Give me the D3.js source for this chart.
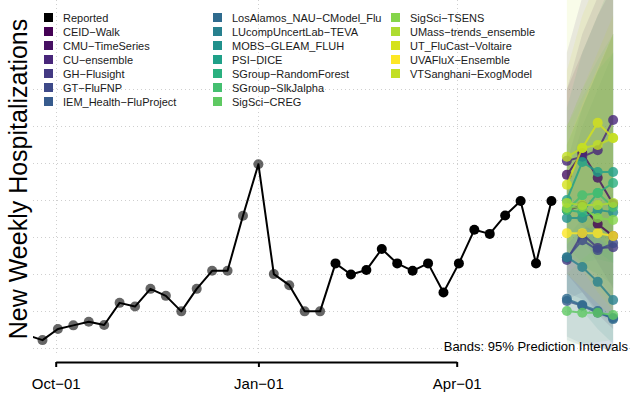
<!DOCTYPE html>
<html>
<head>
<meta charset="utf-8">
<script src="https://cdn.jsdelivr.net/npm/d3@7"></script>
<style>
  html, body { margin: 0; padding: 0; background: #fff; }
  svg { display: block; font-family: "Liberation Sans", Arial, Helvetica, sans-serif; }
</style>
</head>
<body>
<svg id="chart" width="632" height="397"></svg>
<script>
// Weekly reported hospitalizations (week ending Saturday)
const reportedDates = [
  "2021-09-18","2021-09-25","2021-10-02","2021-10-09","2021-10-16","2021-10-23","2021-10-30",
  "2021-11-06","2021-11-13","2021-11-20","2021-11-27","2021-12-04","2021-12-11","2021-12-18",
  "2021-12-25","2022-01-01","2022-01-08","2022-01-15","2022-01-22","2022-01-29","2022-02-05",
  "2022-02-12","2022-02-19","2022-02-26","2022-03-05","2022-03-12","2022-03-19","2022-03-26",
  "2022-04-02","2022-04-09","2022-04-16","2022-04-23","2022-04-30","2022-05-07","2022-05-14"
];
const reportedValues = [
  134, 120, 150, 160, 170, 161, 221,
  211, 259, 240, 198, 259, 308, 308,
  457, 597, 299, 269, 198, 198, 328,
  298, 310, 367, 328, 308, 328, 249,
  328, 419, 408, 458, 497, 328, 497
];
// earlier weeks are drawn faded
const fadedThrough = "2022-01-29";

// Forecast target dates (1-4 weeks ahead)
const horizonDates = ["2022-05-21", "2022-05-28", "2022-06-04", "2022-06-11"];

const models = [
  "CEID-Walk", "CMU-TimeSeries", "CU-ensemble", "GH-Flusight", "GT-FluFNP",
  "IEM_Health-FluProject", "LosAlamos_NAU-CModel_Flu", "LUcompUncertLab-TEVA",
  "MOBS-GLEAM_FLUH", "PSI-DICE", "SGroup-RandomForest", "SGroup-SlkJalpha",
  "SigSci-CREG", "SigSci-TSENS", "UMass-trends_ensemble", "UT_FluCast-Voltaire",
  "UVAFluX-Ensemble", "VTSanghani-ExogModel"
];
const modelColors = [
  "#440154", "#471063", "#48267a", "#443a83", "#3e4a89",
  "#375b8d", "#2f6b8e", "#27808e",
  "#21918c", "#1fa088", "#2ab07f", "#44bf70",
  "#5ec962", "#85d54a", "#addc30", "#d5e21a",
  "#fde725", "#c2df23"
];

// Point forecasts, one row per model, horizons 1-4
const forecastMedian = [
  [473, 484, 435, 402],
  [568, 627, 560, 489],
  [606, 617, 635, 717],
  [337, 408, 370, 372],
  [343, 391, 364, 383],
  [226, 213, 194, 180],
  [232, 215, 199, 177],
  [345, 318, 278, 229],
  [451, 451, 473, 467],
  [500, 603, 576, 576],
  [473, 467, 519, 546],
  [473, 513, 519, 481],
  [199, 194, 194, 188],
  [478, 481, 451, 446],
  [492, 486, 486, 492],
  [541, 641, 709, 668],
  [410, 410, 410, 402],
  [617, 641, 649, 668]
];
// 95% prediction interval bounds
const forecastLower = [
  [300, 250, 190, 150],
  [420, 400, 330, 260],
  [470, 430, 400, 390],
  [230, 250, 200, 180],
  [250, 230, 190, 170],
  [120, 105, 100, 95],
  [130, 110, 100, 90],
  [250, 200, 150, 110],
  [350, 320, 300, 270],
  [380, 420, 360, 330],
  [370, 330, 340, 330],
  [340, 330, 290, 240],
  [105, 110, 115, 120],
  [360, 320, 260, 220],
  [360, 310, 250, 200],
  [380, 420, 430, 350],
  [300, 260, 220, 180],
  [460, 440, 400, 360]
];
const forecastUpper = [
  [800, 900, 1000, 1080],
  [800, 950, 1050, 1150],
  [900, 1050, 1150, 1300],
  [600, 750, 850, 950],
  [560, 700, 800, 900],
  [380, 420, 450, 480],
  [400, 450, 480, 520],
  [560, 620, 650, 700],
  [650, 750, 850, 950],
  [750, 900, 1000, 1100],
  [650, 750, 850, 900],
  [700, 800, 880, 950],
  [300, 340, 370, 400],
  [700, 780, 850, 950],
  [700, 800, 900, 1000],
  [850, 1000, 1100, 1200],
  [650, 760, 860, 950],
  [1060, 1150, 1250, 1350]
];

const xTickDates = ["2021-10-01", "2022-01-01", "2022-04-01"];
const xTickLabels = ["Oct\u221201", "Jan\u221201", "Apr\u221201"];
const yGridValues = [100, 200, 300, 400, 500, 600, 700, 800];

const yTitle = "New Weekly Hospitalizations";
const bandNote = "Bands: 95% Prediction Intervals";

// ---------------------------------------------------------------
const svg = d3.select("#chart");
const parse = d3.utcParse("%Y-%m-%d");

const x = d3.scaleUtc()
  .domain([parse(xTickDates[0]), parse(xTickDates[2])])
  .range([55.7, 456.7]);
const y = d3.scaleLinear()
  .domain([100, 800])
  .range([347.5, 89.3]);

const plot = { left: 33, right: 632, top: -20, bottom: 356 };

svg.append("defs").append("clipPath").attr("id", "plotClip")
  .append("rect")
  .attr("x", plot.left).attr("y", plot.top)
  .attr("width", plot.right - plot.left).attr("height", plot.bottom - plot.top);

// grid
const grid = svg.append("g").attr("stroke", "#cfcfcf").attr("stroke-width", 1)
  .attr("stroke-dasharray", "1,3");
grid.selectAll("line.h").data(yGridValues).join("line").attr("class", "h")
  .attr("x1", plot.left).attr("x2", plot.right)
  .attr("y1", d => Math.round(y(d)) + 0.5).attr("y2", d => Math.round(y(d)) + 0.5);
grid.selectAll("line.v").data(xTickDates).join("line").attr("class", "v")
  .attr("x1", d => Math.round(x(parse(d))) + 0.5).attr("x2", d => Math.round(x(parse(d))) + 0.5)
  .attr("y1", 0).attr("y2", plot.bottom);

const body = svg.append("g").attr("clip-path", "url(#plotClip)");

// prediction bands
const hDates = horizonDates.map(parse);
const band = d3.area()
  .x((d, i) => x(hDates[i]))
  .y0(d => y(d[0]))
  .y1(d => y(d[1]));
models.forEach((m, k) => {
  const rows = forecastLower[k].map((lo, i) => [lo, forecastUpper[k][i]]);
  body.append("path")
    .attr("d", band(rows))
    .attr("fill", modelColors[k])
    .attr("fill-opacity", 0.1)
    .attr("stroke", "none");
});

// reported series
const reported = reportedDates.map((d, i) => ({ date: parse(d), value: reportedValues[i] }));
const fadeLimit = parse(fadedThrough);
const line = d3.line().x(d => x(d.date)).y(d => y(d.value));
body.append("path")
  .attr("d", line(reported))
  .attr("fill", "none").attr("stroke", "#000").attr("stroke-width", 2)
  .attr("stroke-linejoin", "round");
body.selectAll("circle.rep").data(reported).join("circle").attr("class", "rep")
  .attr("cx", d => x(d.date)).attr("cy", d => y(d.value)).attr("r", 5)
  .attr("fill", "#000")
  .attr("fill-opacity", d => d.date <= fadeLimit ? 0.6 : 1);

// forecast lines and points
const fline = d3.line().x((d, i) => x(hDates[i])).y(d => y(d));
models.forEach((m, k) => {
  const g = body.append("g").attr("opacity", 0.8);
  g.append("path")
    .attr("d", fline(forecastMedian[k]))
    .attr("fill", "none").attr("stroke", modelColors[k]).attr("stroke-width", 2);
  g.selectAll("circle").data(forecastMedian[k]).join("circle")
    .attr("cx", (d, i) => x(hDates[i])).attr("cy", d => y(d)).attr("r", 5)
    .attr("fill", modelColors[k]);
});

// x axis
const xAxis = d3.axisBottom(x)
  .tickValues(xTickDates.map(parse))
  .tickFormat((d, i) => xTickLabels[i])
  .tickSizeInner(5).tickSizeOuter(0).tickPadding(11);
const axisG = svg.append("g").attr("transform", "translate(0,362)").call(xAxis);
axisG.select(".domain").attr("stroke", "#000").attr("stroke-width", 2);
axisG.selectAll(".tick line").attr("stroke", "#000").attr("stroke-width", 2);
axisG.selectAll(".tick text").attr("font-size", 15).attr("fill", "#000")
  .attr("font-family", "Liberation Sans, Arial, sans-serif");

// y title
svg.append("text")
  .attr("transform", "translate(27,179) rotate(-90)")
  .attr("text-anchor", "middle")
  .attr("font-size", 25)
  .attr("fill", "#000")
  .text(yTitle);

// band note
svg.append("text")
  .attr("x", 628).attr("y", 351)
  .attr("text-anchor", "end")
  .attr("font-size", 13)
  .attr("fill", "#000")
  .text(bandNote);

// legend
const legendItems = [{ name: "Reported", color: "#000" }]
  .concat(models.map((m, k) => ({ name: m.replace(/-/g, "\u2212"), color: modelColors[k] })));
const colX = [44, 213, 391];
const perCol = 7;
const legend = svg.append("g");
legendItems.forEach((it, i) => {
  const c = Math.floor(i / perCol), r = i % perCol;
  const cy = 17.5 + r * 14;
  legend.append("rect")
    .attr("x", colX[c]).attr("y", cy - 4.5).attr("width", 9).attr("height", 9)
    .attr("fill", it.color);
  legend.append("text")
    .attr("x", colX[c] + 19).attr("y", cy + 4)
    .attr("font-size", 11).attr("fill", "#1a1a1a")
    .text(it.name);
});
</script>
</body>
</html>
